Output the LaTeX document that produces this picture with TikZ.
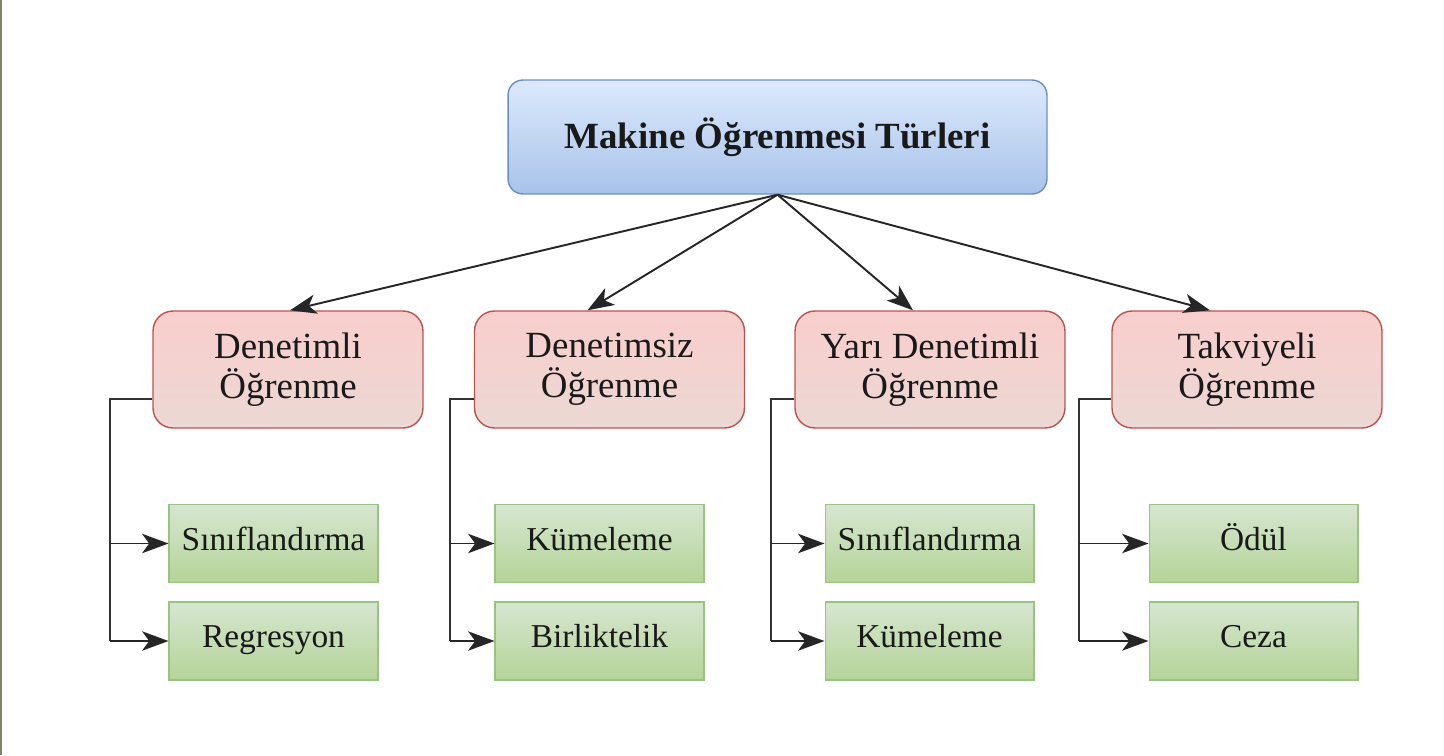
\documentclass[tikz,border=0pt]{standalone}
\usepackage{fontspec}
\setmainfont{Liberation Serif}
\usetikzlibrary{arrows.meta}

\definecolor{rootline}{HTML}{6C8EBF}
\definecolor{typeline}{HTML}{B85450}
\definecolor{leafline}{HTML}{82B366}
\definecolor{frameline}{RGB}{128,133,98}

\tikzset{
    rootbox/.style={draw=rootline, line width=0.8pt, rounded corners=0.3cm,
        top color={rgb,255:red,220;green,233;blue,252}, bottom color={rgb,255:red,168;green,195;blue,234},
        minimum width=10.78cm, minimum height=2.28cm,
        font=\fontsize{21}{24}\selectfont\bfseries, text=black!90},
    typebox/.style={draw=typeline, line width=0.8pt, rounded corners=0.4cm,
        top color={rgb,255:red,248;green,206;blue,204}, bottom color={rgb,255:red,236;green,216;blue,212},
        minimum width=5.4cm, minimum height=2.34cm, align=center,
        font=\fontsize{21}{23}\selectfont, text=black!90},
    leafbox/.style={draw=leafline!80, line width=0.6pt,
        top color={rgb,255:red,214;green,230;blue,208}, bottom color={rgb,255:red,180;green,212;blue,152},
        minimum width=4.18cm, minimum height=1.56cm, text height=0.86em, text depth=0.08em,
        font=\fontsize{19}{22}\selectfont, text=black!90},
    link/.style={draw=black!85, line width=1.1pt, -{Stealth[length=15pt,width=11pt,inset=4pt]}},
    branch/.style={draw=black!80, line width=1.1pt}
}

\begin{document}
\begin{tikzpicture}[x=0.02cm, y=-0.02cm]
        \useasboundingbox (0,0) rectangle (1444,755);
        \draw[frameline, line width=1.2pt] (1,0) -- (1,755);

        \node[rootbox] (root) at (777.5,137) {Makine Öğrenmesi Türleri};

        \node[typebox] (d1) at (288,369.5) {Denetimli\\Öğrenme};
        \node[typebox] (d2) at (609.5,369.5) {Denetimsiz\\Öğrenme};
        \node[typebox] (d3) at (930,369.5) {Yarı Denetimli\\Öğrenme};
        \node[typebox] (d4) at (1247,369.5) {Takviyeli\\Öğrenme};

        \node[leafbox] (s1) at (273.5,543.5) {Sınıflandırma};
        \node[leafbox] (r1) at (273.5,641) {Regresyon};
        \node[leafbox] (k2) at (599.5,543.5) {Kümeleme};
        \node[leafbox] (b2) at (599.5,641) {Birliktelik};
        \node[leafbox] (s3) at (929.5,543.5) {Sınıflandırma};
        \node[leafbox] (k3) at (929.5,641) {Kümeleme};
        \node[leafbox] (o4) at (1253.5,543.5) {Ödül};
        \node[leafbox] (c4) at (1253.5,641) {Ceza};

        \draw[link] (root.south) -- ([xshift=0.04cm]d1.north);
        \draw[link] (root.south) -- ([xshift=-0.44cm]d2.north);
        \draw[link] (root.south) -- ([xshift=-0.34cm]d3.north);
        \draw[link] (root.south) -- ([xshift=-0.74cm]d4.north);

        \coordinate (t1) at (110,399);
        \coordinate (t2) at (450,399);
        \coordinate (t3) at (771,399);
        \coordinate (t4) at (1079,399);

        \draw[branch] (t1 -| d1.west) -- (t1) -- (t1 |- r1);
        \draw[link] (t1 |- s1) -- (s1.west);
        \draw[link] (t1 |- r1) -- (r1.west);
        \draw[branch] (t2 -| d2.west) -- (t2) -- (t2 |- b2);
        \draw[link] (t2 |- k2) -- (k2.west);
        \draw[link] (t2 |- b2) -- (b2.west);
        \draw[branch] (t3 -| d3.west) -- (t3) -- (t3 |- k3);
        \draw[link] (t3 |- s3) -- (s3.west);
        \draw[link] (t3 |- k3) -- (k3.west);
        \draw[branch] (t4 -| d4.west) -- (t4) -- (t4 |- c4);
        \draw[link] (t4 |- o4) -- (o4.west);
        \draw[link] (t4 |- c4) -- (c4.west);
    \end{tikzpicture}
\end{document}
